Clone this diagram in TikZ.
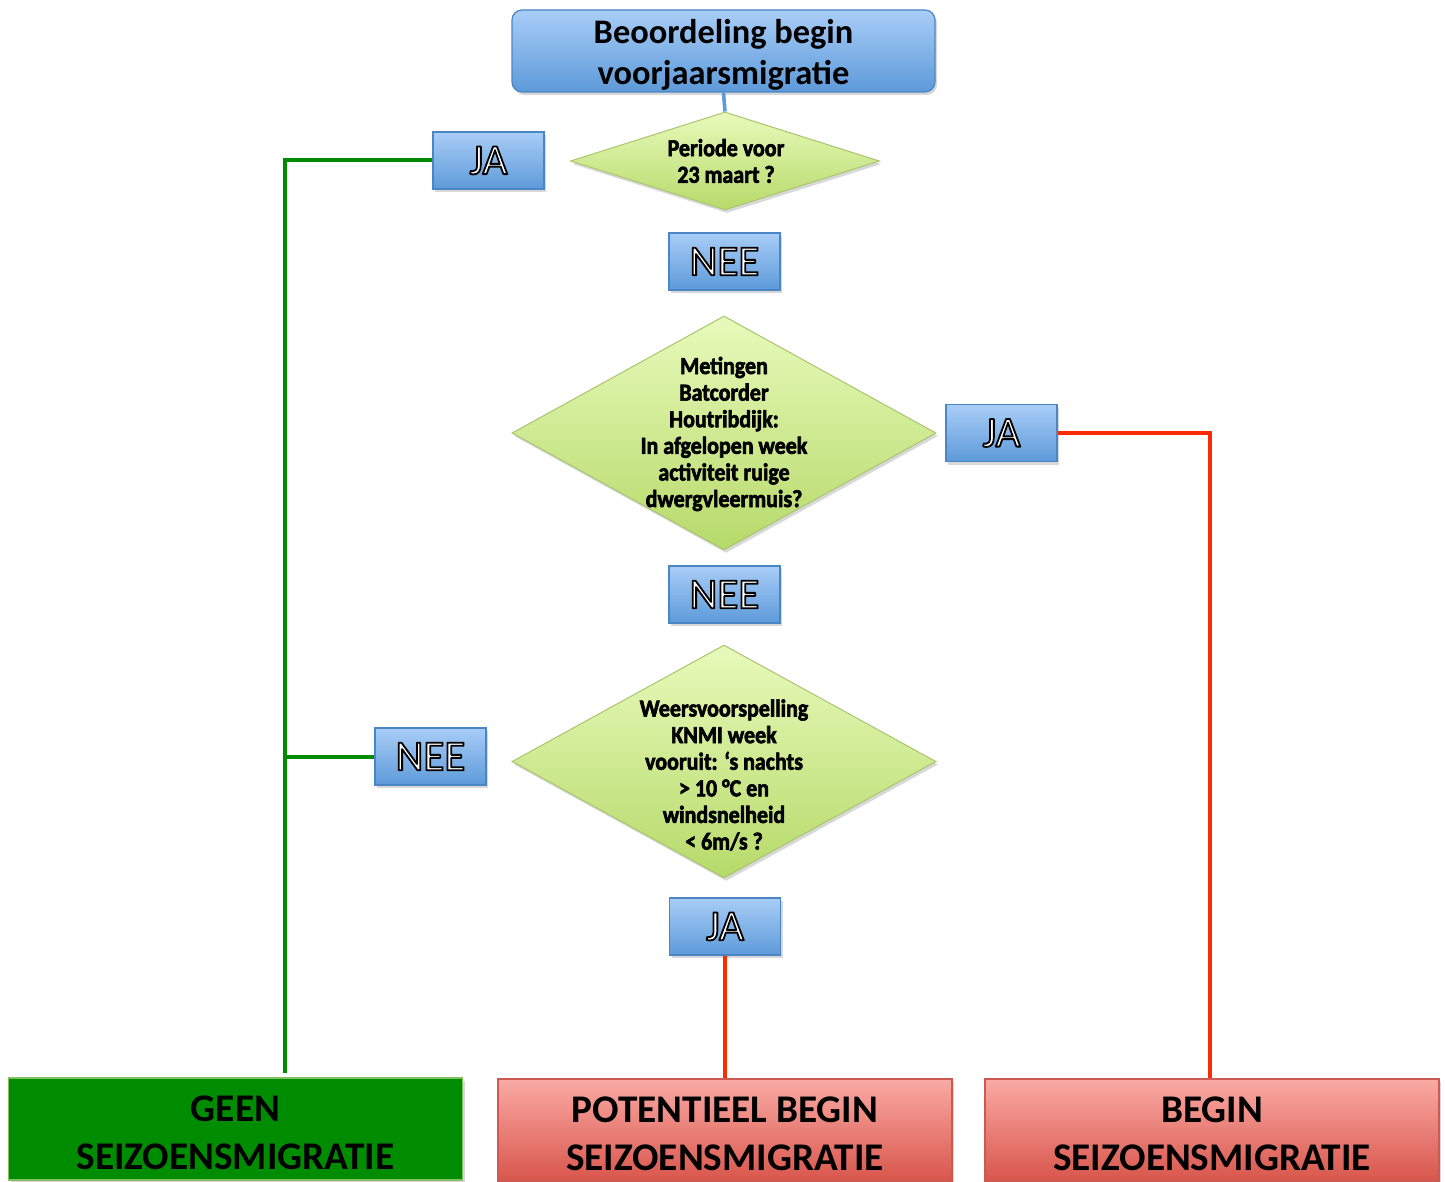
\documentclass[tikz,border=0pt]{standalone}
\usepackage{fontspec}
\setmainfont{Carlito}[BoldFont={Carlito Bold}]
\newfontfamily\condfont{Carlito Bold}[FakeStretch=0.9, FakeBold=2.5]
\usetikzlibrary{shapes.geometric,shadows}
\definecolor{bluetop}{HTML}{A9CDF7}
\definecolor{bluebot}{HTML}{5D9AD9}
\definecolor{blueedge}{HTML}{4A86C5}
\definecolor{diatop}{HTML}{E8FABB}
\definecolor{diabot}{HTML}{B6DA6A}
\definecolor{diaedge}{HTML}{A8C66E}
\definecolor{geenfill}{HTML}{008C00}
\definecolor{geenedge}{HTML}{82C060}
\definecolor{redtop}{HTML}{FAAAA4}
\definecolor{redbot}{HTML}{D8564C}
\definecolor{rededge}{HTML}{CC5A52}
\definecolor{gline}{HTML}{008A00}
\definecolor{rline}{HTML}{FF2B00}
\newcommand\outl[1]{\special{pdf:literal q 1 g 0 G 0.9 w 1 j 2 Tr}#1\special{pdf:literal Q}}
\tikzset{
  shad/.style={drop shadow={opacity=0.3, shadow xshift=1pt, shadow yshift=-1.5pt}},
  topbox/.style={shad, draw=blueedge, line width=0.6pt, rounded corners=5pt, top color=bluetop, bottom color=bluebot,
    minimum width=211.5pt, minimum height=41pt, inner sep=0pt},
  toptxt/.style={align=center, inner sep=0pt, font=\fontsize{17.2}{20.5}\selectfont\bfseries},
  lbl/.style={shad, draw=blueedge, line width=0.6pt, top color=bluetop, bottom color=bluebot,
    minimum width=55.5pt, minimum height=28.5pt, inner sep=0pt, font=\fontsize{21.5}{24}\selectfont},
  dia/.style={shad, diamond, draw=diaedge, line width=0.5pt, top color=diatop, bottom color=diabot, inner sep=0pt},
  dtext/.style={align=center, inner sep=0pt, font=\condfont\fontsize{12.2}{13.3}\selectfont},
  endbox/.style={shad, line width=0.8pt, minimum width=227pt, minimum height=51pt, inner sep=0pt},
  endtxt/.style={align=center, inner sep=0pt, font=\fontsize{19.6}{24}\selectfont\bfseries},
  geenbox/.style={endbox, draw=geenedge, fill=geenfill},
  redbox/.style={endbox, draw=rededge, top color=redtop, bottom color=redbot},
  gconn/.style={draw=gline, line width=2pt},
  rconn/.style={draw=rline, line width=2pt},
  bconn/.style={draw=bluebot, line width=1.8pt}
}
\begin{document}
\begin{tikzpicture}[x=0.5pt, y=-0.5pt]
\useasboundingbox (0,0) rectangle (1445,1182);
\clip (0,0) rectangle (1445,1182);
\fill[white] (0,0) rectangle (1445,1182);
% coordinates for vertical trunks
\coordinate (gx) at (285,0);
\coordinate (rx) at (1210,0);
% nodes
\node[topbox] (top) at (723.5,51) {};
\node[toptxt] (toptext) at (723.5,55) {Beoordeling begin\\voorjaarsmigratie};
\node[dia, minimum width=154.5pt, minimum height=49pt] (d1) at (725,161) {};
\node[dtext] (t1) at (726,161) {Periode voor\\23 maart ?};
\node[lbl] (ja1) at (488.5,160.5) {\outl{JA}};
\node[lbl] (nee1) at (724.5,261.5) {\outl{NEE}};
\node[dia, minimum width=212pt, minimum height=117pt] (d2) at (724,433) {};
\node[dtext] (t2) at (724,434) {Metingen\\Batcorder\\Houtribdijk:\\In afgelopen week\\activiteit ruige\\dwergvleermuis?};
\node[lbl] (ja2) at (1001.5,433) {\outl{JA}};
\node[lbl] (nee2) at (724.5,594.5) {\outl{NEE}};
\node[dia, minimum width=212pt, minimum height=116.5pt] (d3) at (724,761.5) {};
\node[dtext] (t3) at (724,775) {Weersvoorspelling\\KNMI week\\vooruit: ‘s nachts\\ > 10 °C en\\windsnelheid\\< 6m/s ?};
\node[lbl] (nee3) at (430.5,756.5) {\outl{NEE}};
\node[lbl] (ja3) at (725,926.5) {\outl{JA}};
\node[geenbox] (geen) at (235.5,1129) {};
\node[endtxt] (geentext) at (235.5,1133) {GEEN\\SEIZOENSMIGRATIE};
\node[redbox] (pot) at (725,1130) {};
\node[endtxt] (pottext) at (725,1134) {POTENTIEEL BEGIN\\SEIZOENSMIGRATIE};
\node[redbox] (begin) at (1212,1130) {};
\node[endtxt] (begintext) at (1212,1134) {BEGIN\\SEIZOENSMIGRATIE};
% connectors
\draw[bconn] (top.south) -- (d1.north);
\draw[gconn] (ja1.west) -| ([yshift=2pt]gx |- geen.north);
\draw[gconn] (nee3.west) -- (nee3.west -| gx);
\draw[rconn] (ja2.east) -| (rx |- begin.north);
\draw[rconn] (ja3.south) -- (pot.north);
\end{tikzpicture}
\end{document}
